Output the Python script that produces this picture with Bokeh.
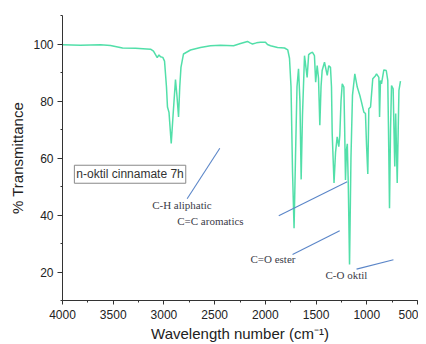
from bokeh.plotting import figure
from bokeh.models import Range1d, SingleIntervalTicker, Label, ColumnDataSource
from bokeh.embed import file_html
from bokeh.resources import INLINE
from bokeh.core.properties import value

# IR spectrum (wavenumber cm-1, % transmittance)
wavenumber = [4000, 3823, 3625, 3527, 3408, 3280, 3132, 3103, 3066, 3049, 3034, 3011,
              2994, 2975, 2965, 2950, 2928, 2910, 2886, 2872, 2856, 2844, 2832, 2807,
              2738, 2640, 2541, 2442, 2314, 2245, 2176, 2147, 2127, 2088, 2048, 1999,
              1979, 1949, 1880, 1811, 1779, 1762, 1747, 1732, 1717, 1703, 1688, 1673,
              1659, 1647, 1634, 1614, 1588, 1573, 1555, 1535, 1516, 1504, 1489, 1476,
              1463, 1451, 1440, 1417, 1390, 1375, 1358, 1348, 1341, 1323, 1308, 1292,
              1276, 1266, 1254, 1242, 1226, 1218, 1210, 1200, 1192, 1182, 1170, 1156,
              1141, 1118, 1094, 1069, 1052, 1029, 1013, 1003, 990, 980, 963, 941,
              914, 904, 881, 874, 865, 855, 832, 808, 793, 786, 776, 766,
              756, 740, 732, 724, 715, 700, 683, 668]
transmittance = [99.7, 99.6, 99.7, 99.5, 98.6, 98.5, 98.2, 97.5, 95.2, 96.2, 95.5, 95.3,
                 94.0, 85.0, 77.9, 76.0, 65.1, 75.0, 87.5, 82.0, 74.4, 85.0, 91.8, 96.5,
                 97.9, 98.8, 99.4, 99.6, 99.4, 100.2, 100.9, 100.3, 100.0, 100.4, 100.6, 100.6,
                 99.8, 99.4, 98.8, 98.6, 97.9, 95.0, 85.0, 55.0, 35.4, 60.0, 85.0, 91.3,
                 80.0, 52.5, 75.0, 95.9, 88.3, 96.3, 96.8, 97.1, 95.9, 86.6, 92.4, 88.0,
                 71.5, 85.0, 90.7, 93.6, 89.0, 92.4, 91.8, 85.0, 68.6, 51.2, 62.0, 67.4,
                 64.0, 68.0, 80.0, 86.0, 84.9, 70.0, 52.3, 63.0, 65.0, 50.0, 22.6, 60.0,
                 82.0, 89.5, 84.9, 82.0, 79.6, 76.1, 75.6, 65.0, 54.4, 77.3, 77.9, 87.8,
                 88.9, 89.5, 88.3, 74.4, 87.2, 86.0, 90.9, 90.7, 87.2, 70.0, 42.4, 70.0,
                 85.4, 84.3, 70.0, 57.0, 75.6, 51.2, 83.7, 87.0]

# Peak annotations: leader lines and labels
ann_text = ["C-H aliphatic", "C=C aromatics", "C=O ester", "C-O oktil"]
ann_text_x = [3116, 2869, 2147, 1407]
ann_text_y = [43.6, 38.0, 24.4, 18.8]
lead_x0 = [2449, 1868, 1732, 1101]
lead_y0 = [63.4, 39.7, 26.1, 21.0]
lead_x1 = [2771, 1193, 1267, 737]
lead_y1 = [45.7, 51.7, 34.5, 24.3]

sample_label = "n-oktil cinnamate 7h"
x_title = "Wavelength number (cm\u207b\u00b9)"
y_title = "% Transmittance"

p = figure(width=418, height=344, output_backend="svg", toolbar_location=None,
           x_range=Range1d(4000, 500), y_range=Range1d(10, 110),
           min_border_left=62, min_border_right=1, min_border_top=15, min_border_bottom=43)
p.outline_line_color = None
p.xgrid.visible = False
p.ygrid.visible = False
p.background_fill_color = "white"
p.border_fill_color = "white"

p.line(wavenumber, transmittance, line_color="#34d99a", line_width=1.5, line_alpha=0.85)

p.segment(x0=lead_x0, y0=lead_y0, x1=lead_x1, y1=lead_y1,
          line_color="#5b86c8", line_width=1.1)

src = ColumnDataSource(dict(x=ann_text_x, y=ann_text_y, t=ann_text))
p.text(x="x", y="y", text="t", source=src, text_font=value("Liberation Serif"),
       text_font_size="11px", text_color="#3b3b48", text_align="left",
       text_baseline="middle")

lab = Label(x=3883, y=54.3, text=sample_label, text_font="Liberation Sans",
            text_font_size="12px", text_color="#333333", text_align="left",
            text_baseline="middle", border_line_color="#888888", border_line_width=1,
            background_fill_color="white", padding=2)
p.add_layout(lab)

for ax in (p.xaxis[0], p.yaxis[0]):
    ax.axis_line_color = "#333333"
    ax.major_tick_line_color = "#333333"
    ax.minor_tick_line_color = "#333333"
    ax.major_tick_out = 4
    ax.major_tick_in = 0
    ax.minor_tick_out = 2
    ax.minor_tick_in = 0
    ax.major_label_text_font = "Liberation Sans"
    ax.major_label_text_font_size = "12px"
    ax.major_label_text_color = "#222222"
    ax.axis_label_text_font = "Liberation Sans"
    ax.axis_label_text_font_size = "15px"
    ax.axis_label_text_font_style = "normal"
    ax.axis_label_text_color = "#222222"

p.yaxis.major_tick_out = 5
p.xaxis.ticker = SingleIntervalTicker(interval=500, num_minor_ticks=2)
p.yaxis.ticker = SingleIntervalTicker(interval=20, num_minor_ticks=2)
p.xaxis.axis_label = x_title
p.yaxis.axis_label = y_title
p.xaxis.major_label_standoff = 5
p.yaxis.major_label_standoff = 4
p.xaxis.axis_label_standoff = 3
p.yaxis.axis_label_standoff = 4

open("out.html", "w").write(file_html(p, INLINE))
